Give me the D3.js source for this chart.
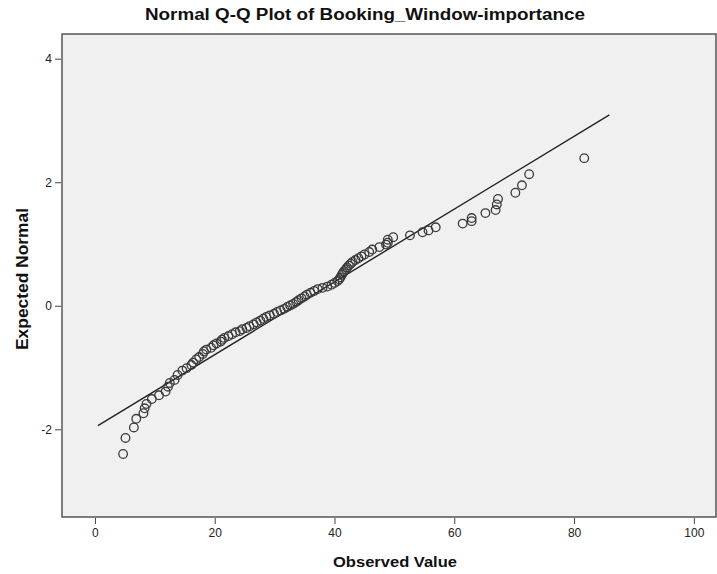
<!DOCTYPE html>
<html>
<head>
<meta charset="utf-8">
<script src="https://cdn.jsdelivr.net/npm/d3@7"></script>
<style>
  body { margin: 0; background: #fff; }
  text { font-family: "Liberation Sans", Arial, sans-serif; }
</style>
</head>
<body>
<div id="chart"></div>
<script>
// Chart size
const width = 717;
const height = 574;

const observed = [
    4.7, 5.1, 6.5, 6.9, 8.1, 8.3, 8.6, 9.5, 10.7, 11.8, 12.2, 12.5, 13.3, 13.8, 14.6, 15.3, 16.1,
    16.4, 16.9, 17.4, 18.0, 18.2, 18.6, 19.4, 19.8, 20.3, 21.0, 21.2, 21.6, 22.3,
    22.9, 23.5, 24.2, 24.6, 25.3, 25.8, 26.5, 27.0, 27.6, 28.1, 28.6, 29.2, 29.9, 30.4, 31.0, 31.6, 32.1, 32.6, 33.1, 33.6,
    34.0, 34.5, 35.0, 35.4, 36.0, 36.6, 37.2, 38.0, 38.8, 39.5, 40.0,
    40.5, 40.8, 41.0, 41.2, 41.4, 41.6, 41.9, 42.1, 42.4, 42.7, 43.0, 43.5, 44.0, 44.5, 45.0,
    45.8, 46.3, 47.5, 48.6, 48.9, 48.9, 49.8, 52.6, 54.7, 55.7, 56.9,
    61.4, 62.9, 62.9, 65.2, 66.9, 67.1, 67.3, 70.2, 71.3, 72.5, 81.7
];
const expected = [
    -2.40, -2.14, -1.97, -1.83, -1.74, -1.66, -1.59, -1.51, -1.45, -1.39, -1.31, -1.25, -1.20, -1.12, -1.05, -1.01, -0.96,
    -0.92, -0.87, -0.83, -0.78, -0.74, -0.71, -0.68, -0.64, -0.61, -0.58, -0.55, -0.52, -0.49,
    -0.46, -0.43, -0.41, -0.38, -0.36, -0.33, -0.30, -0.27, -0.24, -0.21, -0.18, -0.155, -0.13, -0.10, -0.075, -0.05, -0.02, 0.005, 0.03, 0.06,
    0.09, 0.12, 0.15, 0.18, 0.21, 0.24, 0.27, 0.29, 0.31, 0.34, 0.37,
    0.40, 0.43, 0.46, 0.50, 0.53, 0.56, 0.59, 0.62, 0.65, 0.68, 0.71, 0.74, 0.77, 0.80, 0.83,
    0.87, 0.91, 0.95, 0.99, 1.02, 1.07, 1.11, 1.14, 1.19, 1.22, 1.27,
    1.33, 1.37, 1.42, 1.50, 1.55, 1.64, 1.73, 1.83, 1.95, 2.13, 2.39
];

// Reference line endpoints (observed value, expected normal)
const lineX = [0.5, 85.9];
const lineY = [-1.94, 3.09];

// Tick labels
const xTicks = [0, 20, 40, 60, 80, 100];
const yTicks = [-2, 0, 2, 4];

const title = 'Normal Q-Q Plot of Booking_Window-importance';
const xLabel = 'Observed Value';
const yLabel = 'Expected Normal';

// Plot frame
const frame = { left: 62, top: 34, right: 716, bottom: 517 };

const x = d3.scaleLinear().domain([-5.5, 103.7]).range([frame.left, frame.right]);
const y = d3.scaleLinear().domain([-3.42, 4.40]).range([frame.bottom, frame.top]);

const svg = d3.select('#chart')
    .append('svg')
    .attr('width', width)
    .attr('height', height);

// Plot background
svg.append('rect')
    .attr('x', frame.left)
    .attr('y', frame.top)
    .attr('width', frame.right - frame.left)
    .attr('height', frame.bottom - frame.top)
    .attr('fill', '#f0f0f0')
    .attr('stroke', '#555')
    .attr('stroke-width', 1.5);

// Axes
const xAxis = svg.append('g')
    .attr('transform', `translate(0,${frame.bottom + 1})`)
    .call(d3.axisBottom(x).tickValues(xTicks).tickSize(6).tickPadding(4).tickSizeOuter(0));
const yAxis = svg.append('g')
    .attr('transform', `translate(${frame.left - 1},0)`)
    .call(d3.axisLeft(y).tickValues(yTicks).tickSize(6).tickPadding(3).tickSizeOuter(0)
        .tickFormat(d => d < 0 ? '-' + Math.abs(d) : d));

[xAxis, yAxis].forEach(g => {
    g.select('.domain').remove();
    g.selectAll('line').attr('stroke', '#444');
    g.selectAll('text')
        .attr('fill', '#222')
        .style('font-family', '"Liberation Sans", Arial, sans-serif')
        .style('font-size', '12px');
});

// Reference line
svg.append('line')
    .attr('x1', x(lineX[0]))
    .attr('y1', y(lineY[0]))
    .attr('x2', x(lineX[1]))
    .attr('y2', y(lineY[1]))
    .attr('stroke', '#222')
    .attr('stroke-width', 1.4);

// Points
svg.append('g')
    .selectAll('circle')
    .data(observed.map((v, i) => [v, expected[i]]))
    .join('circle')
    .attr('cx', d => x(d[0]))
    .attr('cy', d => y(d[1]))
    .attr('r', 4.3)
    .attr('fill', 'none')
    .attr('stroke', '#3a3a3a')
    .attr('stroke-width', 1.3);

// Title and axis labels
svg.append('text')
    .attr('x', 365)
    .attr('y', 20)
    .attr('text-anchor', 'middle')
    .attr('font-size', 16)
    .attr('font-weight', 'bold')
    .attr('textLength', 440)
    .attr('lengthAdjust', 'spacingAndGlyphs')
    .attr('fill', '#111')
    .text(title);

svg.append('text')
    .attr('x', 395)
    .attr('y', 567)
    .attr('text-anchor', 'middle')
    .attr('font-size', 15)
    .attr('font-weight', 'bold')
    .attr('textLength', 124)
    .attr('lengthAdjust', 'spacingAndGlyphs')
    .attr('fill', '#111')
    .text(xLabel);

svg.append('text')
    .attr('transform', 'translate(28,279) rotate(-90)')
    .attr('text-anchor', 'middle')
    .attr('font-size', 16)
    .attr('font-weight', 'bold')
    .attr('textLength', 142)
    .attr('lengthAdjust', 'spacingAndGlyphs')
    .attr('fill', '#111')
    .text(yLabel);
</script>
</body>
</html>
